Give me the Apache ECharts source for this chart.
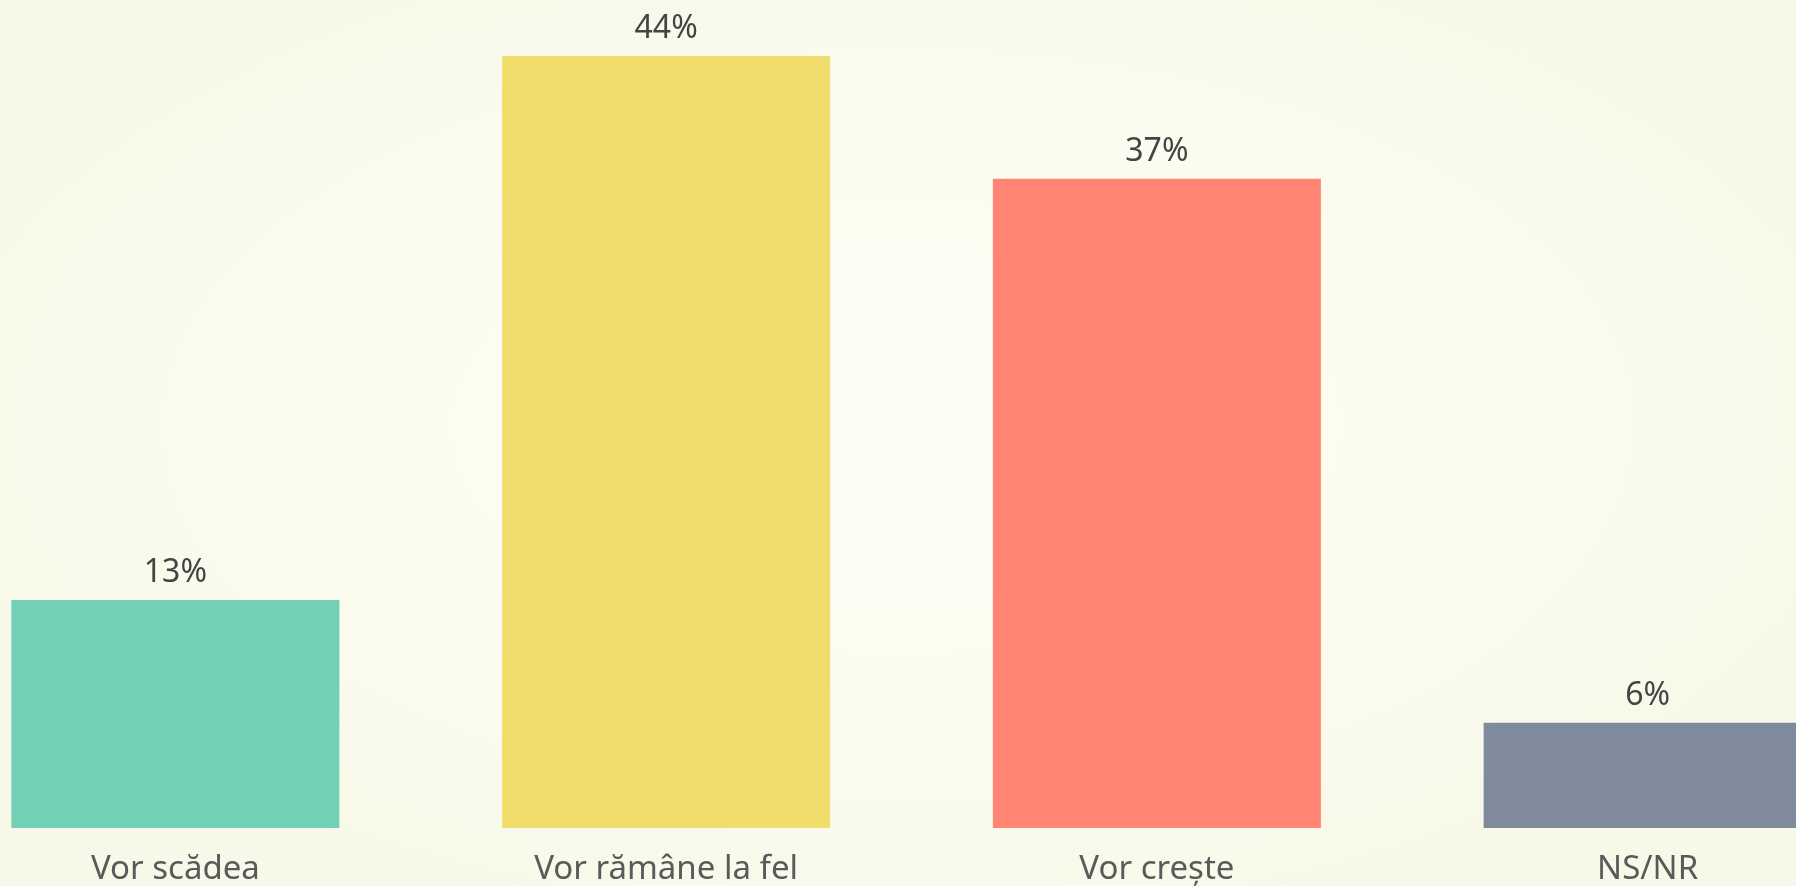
<!DOCTYPE html>
<html>
<head>
<meta charset="utf-8">
<script src="https://cdn.jsdelivr.net/npm/echarts@6/dist/echarts.min.js"></script>
<style>
  html, body { margin: 0; padding: 0; overflow: hidden; width: 1796px; height: 886px; }
  body {
    background: radial-gradient(ellipse at 50% 48%, #fdfdf5 0%, #fcfcf1 35%, #f9f9ea 75%, #f8f8e8 100%);
  }
  #chart {
    width: 1963px;
    height: 886px;
    margin-left: -70px;
  }
</style>
</head>
<body>
<div id="chart"></div>
<script>
const categories = ['Vor scădea', 'Vor rămâne la fel', 'Vor crește', 'NS/NR'];
const values = [13, 44, 37, 6];
const barColors = ['#72d0b4', '#f0dd6c', '#ff8474', '#7f8a9c'];

const chart = echarts.init(document.getElementById('chart'));

chart.setOption({
  backgroundColor: 'transparent',
  animation: false,
  grid: {
    left: 0,
    right: 0,
    top: 56,
    bottom: 56
  },
  xAxis: {
    type: 'category',
    data: categories,
    axisLine: { show: false },
    axisTick: { show: false },
    axisLabel: {
      margin: 25,
      fontFamily: 'Noto Sans',
      fontSize: 33,
      color: '#5a5a5a'
    }
  },
  yAxis: {
    type: 'value',
    min: 0,
    max: 44,
    show: false,
    splitLine: { show: false }
  },
  series: [
    {
      type: 'bar',
      data: values.map((v, i) => ({ value: v, itemStyle: { color: barColors[i] } })),
      barWidth: 328,
      label: {
        show: true,
        position: 'top',
        distance: 11,
        formatter: '{c}%',
        fontFamily: 'Noto Sans',
        fontSize: 32,
        color: '#444444'
      }
    }
  ]
});
</script>
</body>
</html>
